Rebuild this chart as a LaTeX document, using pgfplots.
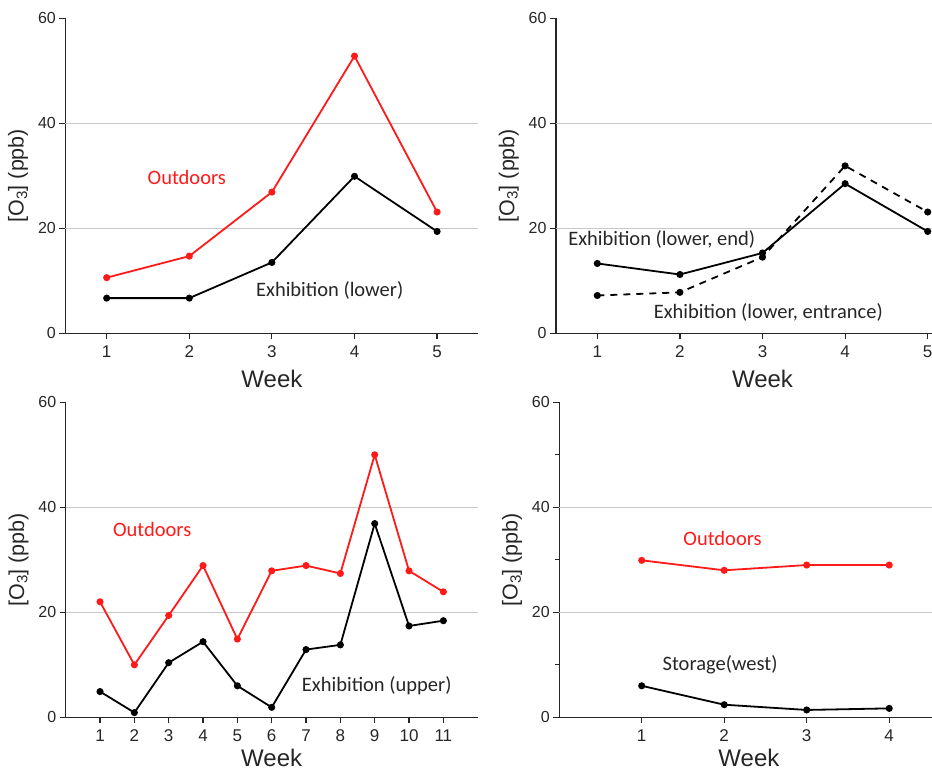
\documentclass[border=0pt]{standalone}
\usepackage{fontspec}
\setmainfont{Liberation Sans}
\newfontfamily\calfont{Carlito}
\usepackage{pgfplots}
\pgfplotsset{compat=1.18}
\definecolor{axgray}{HTML}{262626}
\definecolor{gridgray}{HTML}{C8C8C8}
\definecolor{myred}{HTML}{FF1A1A}
\tikzset{ann/.style={font=\calfont\fontsize{20.5}{24}\selectfont}}
\pgfplotsset{
  panel/.style={
    scale only axis, height=315pt, anchor=south west,
    axis lines=left, axis line style={axgray, line width=1.4pt, -},
    ymin=0, ymax=60, ytick={0,20,40,60},
    extra y ticks={20,40}, extra y tick labels={},
    extra y tick style={grid=major, major tick length=0pt},
    major grid style={gridgray, line width=0.9pt},
    every tick/.style={axgray, line width=1.2pt},
    major tick length=6pt, minor tick length=4pt, tick align=outside,
    /pgf/number format/assume math mode=true,
    yticklabel style={font=\fontsize{16}{19}\selectfont, text=axgray},
    xticklabel style={font=\fontsize{17}{20}\selectfont, text=axgray, yshift=-3pt},
    xlabel={Week}, xlabel style={font=\fontsize{24}{28}\selectfont, text=axgray, yshift=-5pt},
    ylabel={[O\textsubscript{3}] (ppb)}, ylabel shift=-3pt,
    ylabel style={font=\fontsize{21.5}{25}\selectfont, text=axgray},
    clip=false,
  },
  lowpanel/.style={xlabel style={yshift=2pt, inner sep=1pt}},
  redline/.style={myred, line width=1.8pt, mark=*, mark size=2.6pt, mark options={solid}},
  blkline/.style={black, line width=1.8pt, mark=*, mark size=2.6pt, mark options={solid}},
}
\begin{document}
\begin{tikzpicture}
\useasboundingbox (0,0) rectangle (932pt,-773pt);
% top-left
\begin{axis}[panel, at={(65.4pt,-333.3pt)}, width=413pt,
  xmin=0.5, xmax=5.5, xtick={1,2,3,4,5}]
\addplot[redline] coordinates {(1,10.6) (2,14.7) (3,26.9) (4,52.8) (5,23.1)};
\addplot[blkline] coordinates {(1,6.7) (2,6.7) (3,13.5) (4,29.9) (5,19.4)};
\node[ann, text=myred] at (axis cs:1.97,29.6) {Outdoors};
\node[ann, text=axgray] at (axis cs:3.70,8.2) {Exhibition (lower)};
\end{axis}
% top-right
\begin{axis}[panel, at={(556pt,-333.3pt)}, width=413pt,
  xmin=0.5, xmax=5.5, xtick={1,2,3,4,5}]
\addplot[blkline] coordinates {(1,13.3) (2,11.2) (3,15.3) (4,28.5) (5,19.4)};
\addplot[blkline, dash pattern=on 7pt off 6pt] coordinates {(1,7.2) (2,7.8) (3,14.5) (4,31.9) (5,23.1)};
\node[ann, text=axgray] at (axis cs:1.78,17.8) {Exhibition (lower, end)};
\node[ann, text=axgray] at (axis cs:3.07,3.9) {Exhibition (lower, entrance)};
\end{axis}
% bottom-left
\begin{axis}[panel, lowpanel, at={(65.7pt,-717.3pt)}, width=412pt,
  xmin=0, xmax=12, xtick={1,...,11}]
\addplot[redline] coordinates {(1,22.0) (2,10.0) (3,19.4) (4,28.9) (5,14.9) (6,27.9) (7,28.9) (8,27.4) (9,50.0) (10,27.9) (11,23.9)};
\addplot[blkline] coordinates {(1,4.9) (2,0.9) (3,10.4) (4,14.4) (5,6.0) (6,1.9) (7,12.9) (8,13.8) (9,36.9) (10,17.4) (11,18.4)};
\node[ann, text=myred] at (axis cs:2.52,35.7) {Outdoors};
\node[ann, text=axgray] at (axis cs:9.06,6.0) {Exhibition (upper)};
\end{axis}
% bottom-right
\begin{axis}[panel, lowpanel, at={(559.2pt,-717.3pt)}, width=379.5pt,
  xmin=0, xmax=4.6, xtick={1,2,3,4}, minor y tick num=1]
\addplot[redline] coordinates {(1,29.9) (2,28.0) (3,29.0) (4,29.0)};
\addplot[blkline] coordinates {(1,6.0) (2,2.4) (3,1.4) (4,1.7)};
\node[ann, text=myred] at (axis cs:1.98,34.0) {Outdoors};
\node[ann, text=axgray] at (axis cs:1.95,10.0) {Storage(west)};
\end{axis}
\end{tikzpicture}
\end{document}
